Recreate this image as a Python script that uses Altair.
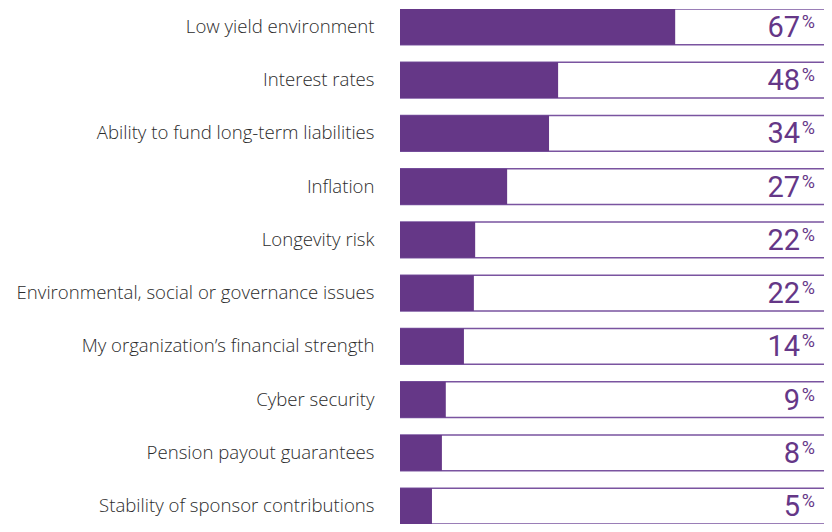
import altair as alt
import pandas as pd

categories = [
    "Low yield environment",
    "Interest rates",
    "Ability to fund long-term liabilities",
    "Inflation",
    "Longevity risk",
    "Environmental, social or governance issues",
    "My organization’s financial strength",
    "Cyber security",
    "Pension payout guarantees",
    "Stability of sponsor contributions",
]
percent_labels = [67, 48, 34, 27, 22, 22, 14, 9, 8, 5]
# filled share of each row's box (box = 100)
bar_fill = [63.7, 36.6, 34.5, 24.8, 17.4, 17.1, 14.8, 10.6, 9.7, 7.4]

df = pd.DataFrame({
    "category": categories,
    "pct": percent_labels,
    "fill": bar_fill,
})
df["box_start"] = 0
df["box_end"] = 105

PURPLE = "#653787"
LINE = "#7a54a0"
TEXT = "#2b2b2b"
LABEL_FONT = "Open Sans"
NUM_FONT = "Roboto"

PLOT_W = 424
X_MAX = 100 * PLOT_W / 432  # visible part of the box

y_enc = alt.Y(
    "category:N",
    sort=categories,
    scale=alt.Scale(range=[0, 515], paddingInner=0.328, paddingOuter=0),
    axis=alt.Axis(
        title=None, domain=False, ticks=False, labelPadding=26,
        labelLimit=420, labelFontSize=18.6, labelFont=LABEL_FONT,
        labelFontWeight=300, labelColor=TEXT, labelAlign="right",
        labelBaseline="middle",
    ),
)
x_scale = alt.Scale(domain=[0, X_MAX], nice=False, zero=True)

base = alt.Chart(df)

boxes = base.mark_bar(
    fill="white", stroke=LINE, strokeWidth=1.4, clip=True
).encode(
    x=alt.X("box_start:Q", scale=x_scale, axis=None),
    x2="box_end:Q",
    y=y_enc,
)

bars = base.mark_bar(color=PURPLE, clip=True).encode(
    x=alt.X("box_start:Q", scale=x_scale, axis=None),
    x2="fill:Q",
    y=y_enc,
)

numbers = base.mark_text(
    align="right", baseline="alphabetic", dy=10, fontSize=29,
    font=NUM_FONT, fontWeight=400, color=PURPLE,
).encode(
    x=alt.datum(92.6),
    y=y_enc,
    text=alt.Text("pct:Q", format="d"),
)

percents = base.mark_text(
    align="left", baseline="alphabetic", dy=1, fontSize=18,
    font=NUM_FONT, fontWeight=400, color=PURPLE,
).encode(
    x=alt.datum(93.0),
    y=y_enc,
    text=alt.value("%"),
)

chart = alt.layer(boxes, bars, numbers, percents).properties(
    width=PLOT_W,
    height=515,
    autosize=alt.AutoSizeParams(type="none"),
    padding={"left": 392, "top": 1, "right": 0, "bottom": 0},
).configure_view(stroke=None)

chart.save("out.html", embed_options={"renderer": "svg", "actions": False})
